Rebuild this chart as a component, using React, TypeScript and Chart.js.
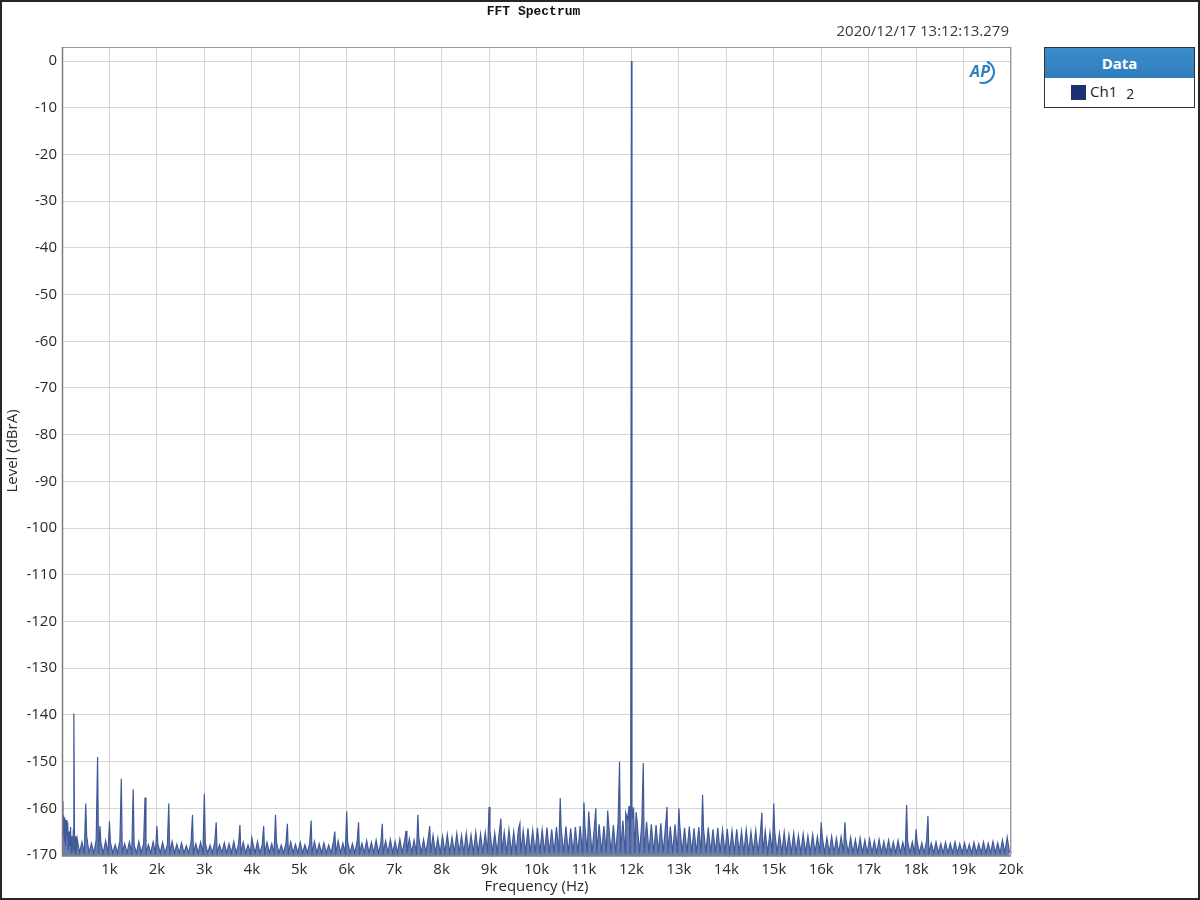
import React, { useEffect, useRef } from 'react';
import { Chart, registerables } from 'chart.js';

Chart.register(...registerables);

// ---------- Data ----------
const X_MIN_HZ = 0;
const X_MAX_HZ = 20000;
const Y_MIN_DB = -170;
const Y_MAX_DB = 3;

const xTickHz = [0, 1000, 2000, 3000, 4000, 5000, 6000, 7000, 8000, 9000, 10000, 11000, 12000, 13000, 14000, 15000, 16000, 17000, 18000, 19000, 20000];
const xTickLabels = ['', '1k', '2k', '3k', '4k', '5k', '6k', '7k', '8k', '9k', '10k', '11k', '12k', '13k', '14k', '15k', '16k', '17k', '18k', '19k', '20k'];
const yTickDb = [0, -10, -20, -30, -40, -50, -60, -70, -80, -90, -100, -110, -120, -130, -140, -150, -160, -170];

// low-frequency noise (0 - 300 Hz), tops and dips
const lfHz = [5, 20, 35, 50, 62, 75, 90, 105, 120, 135, 150, 165, 180, 195, 210, 225, 240, 265, 280, 295];
const lfDb = [-158.5, -166, -161.5, -167, -162, -168, -162.5, -166, -163, -169, -165, -168, -164, -169.5, -166, -169, -164.5, -169.5, -166, -170];

// noise-floor comb: tops every 100 Hz from 320 Hz, dips 50 Hz after each top
const noiseStartHz = 320;
const noiseStepHz = 100;
const noiseDipOffsetHz = 50;
const noiseDipDb = -169.6;
const noiseTopDb = [
  -166.5, -167.2, -166, -167.5, -166.8, -167.4, -166.9,
  -167.3, -167.8, -167, -167.6, -167.2, -167.9, -167.1, -167.5, -167.8, -167.2,
  -167.6, -167.3, -167.9, -167.1, -167.7, -167.4, -168, -167.2, -167.6, -167.3,
  -167.5, -167.9, -167.2, -167.8, -167.4, -167.6, -167.1, -167.7, -167.3, -167.9,
  -167.4, -167.1, -167.8, -167.3, -167.6, -167.2, -167.9, -167.5, -167.2, -167.7,
  -167.3, -167.8, -167.5, -167.1, -167.6, -167.4, -167.9, -167.2, -167, -167.5,
  -167.2, -167.6, -167.1, -167.5, -166.9, -167.3, -166.8, -167.4, -167, -166.7,
  -167.1, -166.6, -167, -166.5, -166.8, -166.3, -166.7, -166.2, -165.8, -166.4,
  -166, -165.6, -166.2, -165.4, -165.8, -165.3, -165.7, -165.1, -165.5, -165.2,
  -164.9, -165.3, -164.7, -165.1, -164.6, -165, -164.5, -164.8, -164.3, -164.7,
  -164.2, -164.6, -164.1, -164.5, -164, -164.4, -163.9, -164.3, -164, -163.8,
  -163.9, -163.5, -164, -163.4, -163.8, -163.2, -163.6, -163, -162.6, -162.4,
  -162.2, -162.8, -163.1, -162.9, -163.4, -163.6, -163.2, -163.7, -163.9, -163.5,
  -163.8, -164.2, -163.9, -164.3, -164, -164.4, -164.1, -164.5, -164.2, -164.6,
  -164.4, -164.8, -164.5, -164.9, -164.6, -165, -164.7, -165.1, -164.8, -165.2,
  -165, -165.4, -165.1, -165.6, -165.3, -165.8, -165.5, -165.9, -165.6, -166.1,
  -165.9, -166.3, -166, -166.4, -166.1, -166.6, -166.3, -166.7, -166.4, -166.8,
  -166.6, -167, -166.7, -167.1, -166.8, -167.2, -166.9, -167.3, -167, -167.2,
  -167.1, -167.4, -167, -167.5, -167.2, -167.6, -167.3, -167.5, -167.2, -167.6,
  -167.4, -167.7, -167.3, -167.6, -167.2, -167.5, -167.1, -167.4, -166.8, -166.2,
];

// discrete spurs
const spurHz = [250, 500, 750, 800, 1000, 1250, 1500, 1750, 2000, 2250, 2750, 3000, 3250, 3750, 4000, 4250, 4500, 4750, 5250, 5750, 6000, 6250, 6750, 7250, 7500, 7750, 9000, 9250, 9650, 10500, 11000, 11100, 11250, 11500, 11750, 12250, 12750, 13000, 13500, 14750, 15000, 16000, 16500, 17800, 18000, 18250];
const spurDb = [-139.7, -159, -149, -163.8, -162.8, -153.7, -155.9, -157.7, -163.8, -159, -161.4, -156.9, -163, -163.6, -166.3, -163.8, -161.4, -163.3, -162.6, -165, -160.7, -163, -163.3, -164.8, -161.4, -163.8, -159.7, -162.2, -163.2, -157.8, -158.7, -160.7, -160, -160.5, -150, -150.3, -159.7, -160, -157.1, -160.9, -159, -163, -163, -159.3, -164.5, -161.6];

// 12 kHz test tone and its skirt
const toneHz = [11880, 11950, 11985, 12000, 12012, 12045, 12100];
const toneDb = [-161, -159.5, -161, 0, -160, -159.8, -160.8];

const TITLE = 'FFT Spectrum';
const TIMESTAMP = '2020/12/17 13:12:13.279';
const X_TITLE = 'Frequency (Hz)';
const Y_TITLE = 'Level (dBrA)';
const LEGEND_TITLE = 'Data';
const SERIES_NAME = 'Ch1';
const SERIES_SUFFIX = '2';

const LINE_COLOR = '#3f5999';
const FILL_COLOR = 'rgba(63, 89, 153, 0.78)';
const GRID_COLOR = '#d6d6d6';
const TEXT_COLOR = '#2a2a2a';
const UI_FONT = '"Open Sans", "Noto Sans", sans-serif';

function buildPoints() {
  const pts: { x: number; y: number }[] = [];
  lfHz.forEach((f, i) => pts.push({ x: f, y: lfDb[i] }));
  noiseTopDb.forEach((v, i) => {
    const f = noiseStartHz + noiseStepHz * i;
    pts.push({ x: f, y: v });
    pts.push({ x: f + noiseDipOffsetHz, y: noiseDipDb });
  });
  spurHz.forEach((f, i) => pts.push({ x: f, y: spurDb[i] }));
  toneHz.forEach((f, i) => pts.push({ x: f, y: toneDb[i] }));
  pts.sort((a, b) => a.x - b.x);
  return pts;
}

const decorPlugin = {
  id: 'decor',
  afterDraw(chart: any) {
    const { ctx, chartArea } = chart;
    const { left, right, top, bottom } = chartArea;
    ctx.save();
    // plot frame
    ctx.strokeStyle = '#9a9a9a';
    ctx.lineWidth = 1;
    ctx.strokeRect(left + 0.5, top + 0.5, right - left - 1, bottom - top);
    ctx.strokeStyle = '#7d7d7d';
    ctx.lineWidth = 1.5;
    ctx.beginPath();
    ctx.moveTo(left + 0.5, top);
    ctx.lineTo(left + 0.5, bottom + 1);
    ctx.lineTo(right, bottom + 1);
    ctx.stroke();
    // title
    ctx.fillStyle = '#111';
    ctx.font = 'bold 13px "Liberation Mono", "DejaVu Sans Mono", monospace';
    ctx.textAlign = 'center';
    ctx.textBaseline = 'middle';
    ctx.fillText(TITLE, (left + right) / 2 - 3, 12);
    // timestamp
    ctx.fillStyle = '#3a3a3a';
    ctx.font = '15px ' + UI_FONT;
    ctx.textAlign = 'right';
    ctx.fillText(TIMESTAMP, right - 2, 32);
    // AP logo
    const cx = 982, cy = 72;
    ctx.strokeStyle = '#2a7fc1';
    ctx.lineWidth = 2;
    ctx.beginPath();
    ctx.arc(cx + 1, cy, 11, -1.2, 1.9);
    ctx.stroke();
    ctx.fillStyle = '#2a7fc1';
    ctx.font = 'italic bold 16px ' + UI_FONT;
    ctx.textAlign = 'center';
    ctx.fillText('AP', cx - 2, cy);
    ctx.restore();
  },
};

export default function App() {
  const ref = useRef<HTMLCanvasElement | null>(null);

  useEffect(() => {
    if (!ref.current) return;
    const chart = new Chart(ref.current, {
      type: 'line',
      data: {
        datasets: [
          {
            data: buildPoints(),
            borderColor: LINE_COLOR,
            backgroundColor: FILL_COLOR,
            borderWidth: 1.2,
            pointRadius: 0,
            tension: 0,
            fill: 'start',
          },
        ],
      },
      options: {
        animation: false,
        responsive: false,
        events: [],
        layout: { padding: { left: 0, top: 47, right: 189, bottom: 0 } },
        plugins: { legend: { display: false }, tooltip: { enabled: false }, title: { display: false } },
        scales: {
          x: {
            type: 'linear',
            min: X_MIN_HZ,
            max: X_MAX_HZ,
            afterBuildTicks: (s: any) => {
              s.ticks = xTickHz.map((v) => ({ value: v }));
            },
            afterFit: (s: any) => {
              s.height = 45;
            },
            grid: { color: GRID_COLOR, lineWidth: 1, drawTicks: false },
            border: { display: false },
            ticks: {
              autoSkip: false,
              maxRotation: 0,
              padding: 6,
              color: TEXT_COLOR,
              font: { family: UI_FONT, size: 15 },
              callback: (v: any) => xTickLabels[xTickHz.indexOf(Number(v))] ?? '',
            },
            title: {
              display: true,
              text: X_TITLE,
              color: TEXT_COLOR,
              font: { family: UI_FONT, size: 15 },
              padding: { top: 0, bottom: 4 },
            },
          },
          y: {
            type: 'linear',
            min: Y_MIN_DB,
            max: Y_MAX_DB,
            afterBuildTicks: (s: any) => {
              s.ticks = yTickDb.map((v) => ({ value: v }));
            },
            afterFit: (s: any) => {
              s.width = 62;
            },
            grid: { color: GRID_COLOR, lineWidth: 1, drawTicks: false },
            border: { display: false },
            ticks: {
              autoSkip: false,
              padding: 5,
              color: TEXT_COLOR,
              font: { family: UI_FONT, size: 15 },
              callback: (v: any) => String(v),
            },
            title: {
              display: true,
              text: Y_TITLE,
              color: TEXT_COLOR,
              font: { family: UI_FONT, size: 15 },
              padding: { top: 4, bottom: 0 },
            },
          },
        },
      },
      plugins: [decorPlugin],
    } as any);
    return () => chart.destroy();
  }, []);

  return (
    <div style={{ position: 'absolute', left: 0, top: 0, width: 1200, height: 900, background: '#fff', overflow: 'hidden' }}>
      <canvas ref={ref} width={1200} height={900} style={{ position: 'absolute', left: 0, top: 0, width: 1200, height: 900 }} />
      <div
        style={{
          position: 'absolute',
          left: 1044,
          top: 47,
          width: 151,
          height: 61,
          boxSizing: 'border-box',
          border: '1.5px solid #333',
          background: '#fff',
          fontFamily: UI_FONT,
        }}
      >
        <div
          style={{
            height: 30,
            background: 'linear-gradient(#3b8bc9, #2f7dbd)',
            color: '#fff',
            fontWeight: 700,
            fontSize: 15,
            lineHeight: '30px',
            textAlign: 'center',
          }}
        >
          {LEGEND_TITLE}
        </div>
        <div style={{ position: 'relative', height: 28 }}>
          <div style={{ position: 'absolute', left: 26, top: 7, width: 15, height: 15, background: '#1b3170' }} />
          <div style={{ position: 'absolute', left: 45, top: 3, fontSize: 15, color: '#222', lineHeight: '20px' }}>
            {SERIES_NAME}
            <span style={{ fontSize: 14, marginLeft: 9, position: 'relative', top: 2 }}>{SERIES_SUFFIX}</span>
          </div>
        </div>
      </div>
      <div
        style={{
          position: 'absolute',
          left: 0,
          top: 0,
          width: 1200,
          height: 900,
          boxSizing: 'border-box',
          border: '2px solid #262626',
          pointerEvents: 'none',
        }}
      />
    </div>
  );
}
